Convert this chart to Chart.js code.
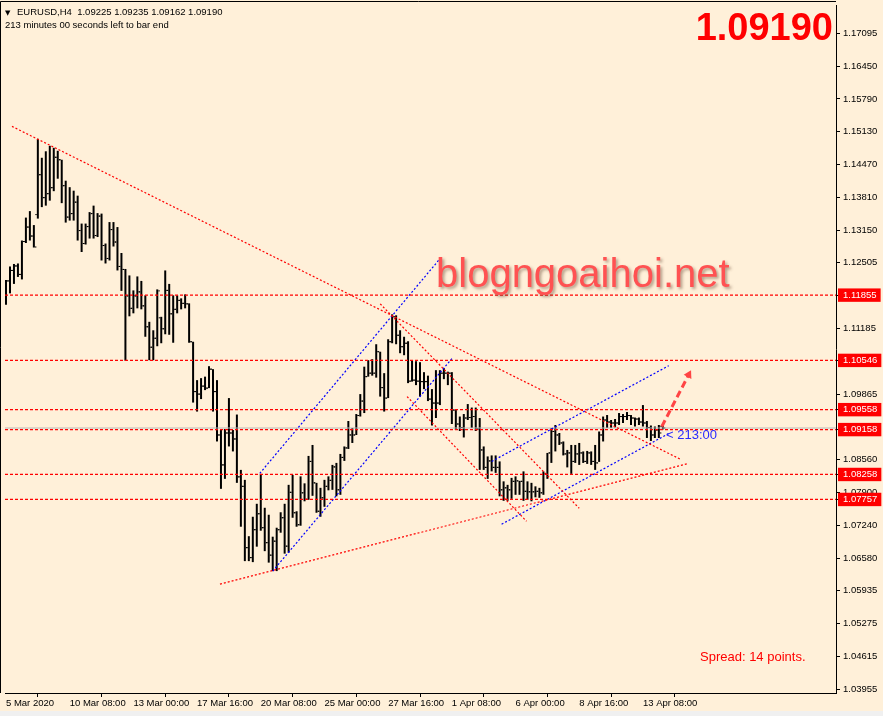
<!DOCTYPE html>
<html>
<head>
<meta charset="utf-8">
<title>EURUSD H4</title>
<script src="https://cdn.jsdelivr.net/npm/chart.js@4.4.1/dist/chart.umd.min.js"></script>
<style>
  html, body { margin: 0; padding: 0; background: #f0f0f0; }
  #wrap { width: 883px; height: 716px; }
</style>
</head>
<body>
<div id="wrap"><canvas id="myChart" width="883" height="716"></canvas></div>
<script>
// EURUSD H4 bars, one per 4 hours
var opens = [1.1182,1.1214,1.1235,1.1244,1.1227,1.1293,1.1322,1.1304,1.1347,1.1427,
  1.1381,1.1389,1.1401,1.1462,1.1457,1.1405,1.1342,1.1349,1.1372,1.1315,
  1.1289,1.1323,1.1349,1.1305,1.1344,1.1285,1.1259,1.1317,1.1292,1.1243,
  1.1237,1.1184,1.1159,1.1184,1.1192,1.1164,1.1122,1.1081,1.1099,1.1140,
  1.1118,1.1195,1.1148,1.1157,1.1175,1.1169,1.1168,1.1092,1.0992,1.0987,
  1.1003,1.0999,1.1037,1.0992,1.0905,1.0845,1.0909,1.0909,1.0897,1.0821,
  1.0802,1.0679,1.0659,1.0715,1.0747,1.0719,1.0689,1.0664,1.0692,1.0715,
  1.0739,1.0682,1.0790,1.0749,1.0725,1.0789,1.0776,1.0852,1.0809,1.0752,
  1.0779,1.0802,1.0814,1.0841,1.0795,1.0860,1.0879,1.0905,1.0905,1.0944,
  1.0973,1.1022,1.1029,1.1029,1.1072,1.1000,1.0979,1.1092,1.1142,1.1105,
  1.1082,1.1089,1.1013,1.1015,1.1013,1.1012,1.1012,1.0977,1.0969,1.0969,
  1.1029,1.1029,1.1029,1.0955,1.0927,1.0920,1.0939,1.0940,1.0942,1.0917,
  1.0875,1.0840,1.0853,1.0840,1.0840,1.0795,1.0799,1.0795,1.0812,1.0813,
  1.0812,1.0792,1.0791,1.0791,1.0792,1.0789,1.0827,1.0869,1.0912,1.0905,
  1.0889,1.0867,1.0869,1.0852,1.0867,1.0869,1.0852,1.0869,1.0852,1.0849,
  1.0905,1.0935,1.0931,1.0929,1.0929,1.0942,1.0942,1.0944,1.0939,1.0937,
  1.0931,1.0929,1.0920,1.0905,1.0915,1.09225];

var highs = [1.1216,1.1243,1.1248,1.1249,1.1295,1.1341,1.1354,1.1326,1.1499,1.1461,
  1.1474,1.1485,1.1481,1.1475,1.1457,1.1415,1.1402,1.1395,1.1385,1.1329,
  1.1329,1.1352,1.1365,1.1350,1.1349,1.1289,1.1332,1.1332,1.1322,1.1270,
  1.1238,1.1225,1.1195,1.1223,1.1214,1.1185,1.1132,1.1115,1.1197,1.1142,
  1.1235,1.1208,1.1185,1.1185,1.1179,1.1187,1.1169,1.1092,1.1015,1.1019,
  1.1022,1.1043,1.1037,1.1015,1.0915,1.0917,1.0979,1.0915,1.0946,1.0835,
  1.0815,1.0702,1.0741,1.0767,1.0827,1.0759,1.0745,1.0701,1.0719,1.0750,
  1.0767,1.0805,1.0825,1.0752,1.0822,1.0808,1.0863,1.0885,1.0809,1.0799,
  1.0815,1.0822,1.0845,1.0849,1.0867,1.0882,1.0933,1.0919,1.0947,1.0987,
  1.1042,1.1055,1.1057,1.1087,1.1072,1.1029,1.1097,1.1147,1.1145,1.1115,
  1.1102,1.1093,1.1055,1.1053,1.1051,1.1031,1.1024,1.0997,1.1035,1.1035,
  1.1039,1.1032,1.1031,1.0955,1.0942,1.0947,1.0967,1.0960,1.0960,1.0939,
  1.0882,1.0862,1.0864,1.0864,1.0852,1.0812,1.0805,1.0819,1.0822,1.0813,
  1.0832,1.0812,1.0809,1.0802,1.0799,1.0832,1.0869,1.0919,1.0925,1.0909,
  1.0892,1.0875,1.0885,1.0885,1.0889,1.0872,1.0873,1.0872,1.0885,1.0912,
  1.0942,1.0945,1.0935,1.0937,1.0949,1.0947,1.0951,1.0945,1.0940,1.0940,
  1.0965,1.0933,1.0924,1.0922,1.0925,1.09235];

var lows = [1.1166,1.1189,1.1208,1.1222,1.1217,1.1290,1.1295,1.1281,1.1339,1.1362,
  1.1365,1.1375,1.1394,1.1419,1.1370,1.1331,1.1335,1.1335,1.1295,1.1272,
  1.1287,1.1299,1.1299,1.1302,1.1255,1.1249,1.1255,1.1283,1.1235,1.1194,
  1.1054,1.1143,1.1149,1.1159,1.1157,1.1102,1.1055,1.1055,1.1083,1.1089,
  1.1107,1.1106,1.1090,1.1149,1.1157,1.1159,1.1090,1.0970,1.0952,1.0977,
  1.0995,1.0999,1.0952,1.0892,1.0797,1.0817,1.0882,1.0872,1.0809,1.0721,
  1.0652,1.0652,1.0650,1.0681,1.0713,1.0672,1.0649,1.0632,1.0632,1.0709,
  1.0667,1.0669,1.0739,1.0721,1.0723,1.0772,1.0775,1.0783,1.0749,1.0741,
  1.0761,1.0794,1.0795,1.0782,1.0785,1.0853,1.0877,1.0889,1.0905,1.0942,
  1.0949,1.1022,1.1024,1.1020,1.0982,1.0952,1.0979,1.1089,1.1087,1.1069,
  1.1065,1.1009,1.1012,1.1005,1.0982,1.0997,1.0973,1.0924,1.0939,1.0965,
  1.1017,1.1005,1.0927,1.0915,1.0913,1.0900,1.0935,1.0919,1.0913,1.0835,
  1.0835,1.0817,1.0832,1.0829,1.0782,1.0773,1.0773,1.0777,1.0785,1.0785,
  1.0773,1.0775,1.0772,1.0780,1.0779,1.0785,1.0817,1.0849,1.0872,1.0885,
  1.0864,1.0840,1.0827,1.0849,1.0845,1.0849,1.0847,1.0845,1.0835,1.0851,
  1.0892,1.0919,1.0919,1.0920,1.0925,1.0929,1.0935,1.0925,1.0922,1.0925,
  1.0922,1.0899,1.0893,1.0899,1.0899,1.09162];

var closes = [1.1214,1.1235,1.1244,1.1227,1.1293,1.1322,1.1304,1.1282,1.1427,1.1381,
  1.1389,1.1401,1.1462,1.1457,1.1405,1.1342,1.1349,1.1372,1.1315,1.1289,
  1.1323,1.1349,1.1305,1.1344,1.1285,1.1259,1.1317,1.1292,1.1243,1.1237,
  1.1184,1.1159,1.1184,1.1192,1.1164,1.1122,1.1081,1.1099,1.1194,1.1118,
  1.1195,1.1148,1.1157,1.1175,1.1169,1.1168,1.1092,1.0992,1.0987,1.1003,
  1.0999,1.1037,1.0992,1.0905,1.0845,1.0909,1.0909,1.0897,1.0821,1.0802,
  1.0679,1.0659,1.0715,1.0747,1.0719,1.0689,1.0664,1.0692,1.0715,1.0739,
  1.0682,1.0790,1.0749,1.0725,1.0789,1.0776,1.0852,1.0809,1.0752,1.0779,
  1.0802,1.0814,1.0841,1.0795,1.0860,1.0879,1.0905,1.0905,1.0944,1.0973,
  1.1022,1.1029,1.1029,1.1072,1.1000,1.0979,1.1092,1.1142,1.1105,1.1082,
  1.1089,1.1013,1.1015,1.1013,1.1012,1.1012,1.0977,1.0969,1.0969,1.1029,
  1.1029,1.1029,1.0955,1.0927,1.0920,1.0939,1.0940,1.0942,1.0917,1.0875,
  1.0840,1.0853,1.0840,1.0840,1.0795,1.0799,1.0795,1.0812,1.0813,1.0812,
  1.0792,1.0791,1.0791,1.0792,1.0789,1.0827,1.0869,1.0912,1.0905,1.0889,
  1.0867,1.0869,1.0852,1.0867,1.0869,1.0852,1.0869,1.0852,1.0849,1.0905,
  1.0935,1.0931,1.0929,1.0929,1.0942,1.0942,1.0944,1.0939,1.0937,1.0931,
  1.0929,1.0920,1.0905,1.0915,1.0909,1.09190];

// time axis labels (bar index -> text)
var xTickIdx = [0, 16, 32, 48, 64, 80, 96, 112, 128, 144, 160];
var xTickLabels = ['5 Mar 2020', '10 Mar 08:00', '13 Mar 00:00', '17 Mar 16:00', '20 Mar 08:00',
  '25 Mar 00:00', '27 Mar 16:00', '1 Apr 08:00', '6 Apr 00:00', '8 Apr 16:00', '13 Apr 08:00'];

// price axis
var yTicks = [1.17095, 1.16450, 1.15790, 1.15130, 1.14470, 1.13810, 1.13150, 1.12505, 1.11185,
  1.09865, 1.08560, 1.07900, 1.07240, 1.06580, 1.05935, 1.05275, 1.04615, 1.03955];
var levels = [1.11855, 1.10546, 1.09558, 1.09158, 1.08258, 1.07757];
var bid = 1.09190;

// trend lines: [startBar, startPrice, endBar, endPrice]
var redLines = [
  [1.5, 1.1524, 169.5, 1.0856],
  [94, 1.1168, 144, 1.0758],
  [100.75, 1.0982, 130.75, 1.0732],
  [53.75, 1.0606, 171.5, 1.0848]
];
var blueLines = [
  [63.75, 1.0828, 108.75, 1.1256],
  [67, 1.0632, 112, 1.1058],
  [122, 1.0852, 166.5, 1.1044],
  [124.5, 1.0726, 166.5, 1.0908]
];
var arrow = [164.75, 1.0922, 171.5, 1.1026];

var xMin = -0.25, xMax = 208.5;
var yMin = 1.03875, yMax = 1.17674;
var bg = '#fff0d9';

var seg = function (l) { return [{x: l[0], y: l[1]}, {x: l[2], y: l[3]}]; };

var datasets = [];
levels.forEach(function (v) {
  datasets.push({type: 'line', data: [{x: xMin, y: v}, {x: xMax, y: v}], borderColor: '#ff0000',
    borderWidth: 1.2, borderDash: [3, 2], pointRadius: 0, order: 1});
});
datasets.push({type: 'line', data: [{x: xMin, y: bid}, {x: xMax, y: bid}], borderColor: '#b8b8b8',
  borderWidth: 1, pointRadius: 0, order: 2});
redLines.forEach(function (l) {
  datasets.push({type: 'line', data: seg(l), borderColor: '#ff0000', borderWidth: 1.2,
    borderDash: [2, 2], pointRadius: 0, order: 1});
});
blueLines.forEach(function (l) {
  datasets.push({type: 'line', data: seg(l), borderColor: '#0000ff', borderWidth: 1.2,
    borderDash: [2, 2], pointRadius: 0, order: 1});
});
datasets.push({type: 'line', data: seg(arrow), borderColor: '#ff4444', borderWidth: 3,
  borderDash: [7, 4], pointRadius: [0, 5], pointStyle: 'triangle', pointRotation: 28,
  pointBackgroundColor: '#ff4444', pointBorderWidth: 0, order: 0});

// high-low bars
datasets.push({type: 'bar', data: lows.map(function (l, i) { return {x: i, y: [l, highs[i]]}; }),
  backgroundColor: '#000', borderWidth: 0, barThickness: 2, inflateAmount: 0, grouped: false, order: 5});
// open / close ticks
datasets.push({type: 'line', showLine: false, data: opens.map(function (o, i) { return {x: i - 0.45, y: o}; }),
  pointStyle: 'line', pointRadius: 0.75, pointBorderColor: '#000', pointBorderWidth: 1, order: 4});
datasets.push({type: 'line', showLine: false, data: closes.map(function (c, i) { return {x: i + 0.45, y: c}; }),
  pointStyle: 'line', pointRadius: 0.75, pointBorderColor: '#000', pointBorderWidth: 1, order: 4});

var decor = {
  id: 'decor',
  beforeDraw: function (chart) {
    var ctx = chart.ctx;
    ctx.save();
    ctx.fillStyle = bg;
    ctx.fillRect(0, 0, chart.width, chart.height);
    ctx.fillStyle = '#f0f0f0';
    ctx.fillRect(0, 711, chart.width, chart.height - 711);
    ctx.restore();
  },
  afterDraw: function (chart) {
    var ctx = chart.ctx, a = chart.chartArea;
    ctx.save();
    // frame
    ctx.strokeStyle = '#000';
    ctx.lineWidth = 1;
    ctx.beginPath();
    ctx.moveTo(0.5, a.bottom);
    ctx.lineTo(0.5, 1.5);
    ctx.lineTo(a.right, 1.5);
    ctx.stroke();

    ctx.fillStyle = '#000';
    ctx.textBaseline = 'alphabetic';
    ctx.font = '7px "DejaVu Sans"';
    ctx.fillText('\u25BC', 5, 15);
    ctx.font = '9.5px "Liberation Sans"';
    ctx.fillText('EURUSD,H4  1.09225 1.09235 1.09162 1.09190', 17, 15);
    ctx.fillText('213 minutes 00 seconds left to bar end', 5, 28);

    ctx.fillStyle = '#ff0000';
    ctx.font = 'bold 38px "Liberation Sans"';
    ctx.textAlign = 'right';
    ctx.fillText('1.09190', 833, 40);
    ctx.textAlign = 'left';

    ctx.font = '13px "Liberation Sans"';
    ctx.fillText('Spread: 14 points.', 700, 661);

    ctx.fillStyle = '#2a2aff';
    ctx.fillText('< 213:00', 666, 439);

    ctx.shadowColor = 'rgba(90,60,40,0.45)';
    ctx.shadowOffsetX = 2;
    ctx.shadowOffsetY = 2;
    ctx.shadowBlur = 3;
    ctx.fillStyle = '#ff5252';
    ctx.font = '40px "Liberation Sans"';
    ctx.fillText('blogngoaihoi.net', 436, 287);
    ctx.restore();
  }
};

var ctx = document.getElementById('myChart').getContext('2d');
var myChart = new Chart(ctx, {
  type: 'bar',
  data: {datasets: datasets},
  options: {
    responsive: false,
    animation: false,
    devicePixelRatio: 1,
    events: [],
    layout: {padding: {top: 2, left: 1, right: 0, bottom: 0}},
    plugins: {legend: {display: false}, tooltip: {enabled: false}},
    scales: {
      x: {
        type: 'linear', position: 'bottom', min: xMin, max: xMax, offset: false,
        grid: {drawOnChartArea: false, tickLength: 4, color: '#000', tickColor: '#000'},
        border: {color: '#000', width: 1},
        ticks: {
          autoSkip: false, maxRotation: 0, minRotation: 0, align: 'start', padding: 1,
          color: '#000', font: {family: 'Liberation Sans', size: 9.5},
          callback: function (v) { var k = xTickIdx.indexOf(v); return k < 0 ? '' : xTickLabels[k]; }
        },
        afterBuildTicks: function (s) { s.ticks = xTickIdx.map(function (v) { return {value: v}; }); },
        afterFit: function (s) { s.height = 23; s.paddingLeft = 0; s.paddingRight = 0; }
      },
      y: {
        type: 'linear', position: 'right', min: yMin, max: yMax, beginAtZero: false,
        grid: {drawOnChartArea: false, tickLength: 4, color: '#000', tickColor: '#000'},
        border: {color: '#000', width: 1},
        ticks: {
          autoSkip: false, padding: 3,
          font: {family: 'Liberation Sans', size: 9.5},
          color: function (c) { return levels.indexOf(c.tick.value) >= 0 ? '#fff' : '#000'; },
          showLabelBackdrop: true,
          backdropColor: function (c) { return levels.indexOf(c.tick.value) >= 0 ? '#ff0000' : 'rgba(0,0,0,0)'; },
          backdropPadding: {top: 1, bottom: 1, left: 5, right: 4},
          callback: function (v) { return v.toFixed(5); }
        },
        afterBuildTicks: function (s) {
          s.ticks = yTicks.concat(levels).map(function (v) { return {value: v}; });
        },
        afterFit: function (s) { s.width = 47; s.paddingTop = 0; s.paddingBottom = 0; }
      }
    }
  },
  plugins: [decor]
});
</script>
</body>
</html>
